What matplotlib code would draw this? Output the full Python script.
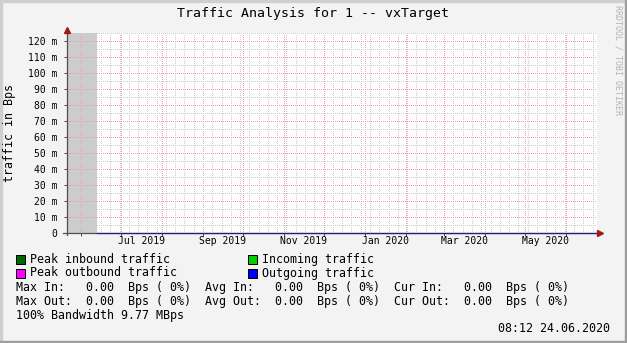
import datetime as dt

import matplotlib
matplotlib.use('Agg')
from matplotlib import pyplot as plt
import matplotlib.dates as mdates
import matplotlib.ticker as mticker
import matplotlib.transforms as mtrans
from matplotlib.patches import Rectangle

# figure size in pixels
W, H = 627, 343

# ---- data ----
title = 'Traffic Analysis for 1 -- vxTarget'
y_label = 'traffic in Bps'
watermark = 'RRDTOOL / TOBI OETIKER'
stamp = '08:12 24.06.2020'

t_start = dt.datetime(2019, 5, 21, 8, 12)
t_end = dt.datetime(2020, 6, 24, 8, 12)
t_unknown_end = dt.datetime(2019, 6, 12, 18, 0)  # no data before this

y_max = 125  # in milli Bps
y_ticks = list(range(0, 121, 10))
y_tick_labels = ['0'] + ['%d m' % v for v in y_ticks[1:]]
month_labels = [(2019, 7), (2019, 9), (2019, 11), (2020, 1), (2020, 3), (2020, 5)]

series_times = [t_unknown_end, t_end]
in_values = [0.0, 0.0]
out_values = [0.0, 0.0]

legend_names = ['Peak inbound traffic', 'Incoming traffic',
                'Peak outbound traffic', 'Outgoing traffic']
legend_colors = ['#006600', '#00cc00', '#ff00ff', '#0000ff']

stat_lines = [
    'Max In:   0.00  Bps ( 0%)  Avg In:   0.00  Bps ( 0%)  Cur In:   0.00  Bps ( 0%)',
    'Max Out:  0.00  Bps ( 0%)  Avg Out:  0.00  Bps ( 0%)  Cur Out:  0.00  Bps ( 0%)',
    '100% Bandwidth 9.77 MBps',
]

MONO = 'DejaVu Sans Mono'
BACK = '#f3f3f3'
AXIS = '#505050'
ARROW = '#a01818'


def fx(x):
    return x / W


def fy(y):
    return 1 - y / H


fig = plt.figure(figsize=(W / 100, H / 100), dpi=100, facecolor=BACK)

# plot area: x 67..597, y 33..233 (pixels)
ax = fig.add_axes([fx(67), fy(233), 530 / W, 200 / H])
ax.set_facecolor('white')
ax.set_xlim(t_start, t_end)
ax.set_ylim(0, y_max)

for s in ax.spines.values():
    s.set_visible(False)

# unknown data area
ax.axvspan(t_start, t_unknown_end, color='#cccccc', lw=0, zorder=0.2)

# grids: weekly / every 5 m (gray), monthly / every 10 m (pink)
ax.xaxis.set_major_locator(mdates.MonthLocator())
ax.xaxis.set_minor_locator(mdates.WeekdayLocator(byweekday=mdates.SU))
ax.xaxis.set_major_formatter(mticker.NullFormatter())
ax.set_yticks(y_ticks, y_tick_labels)
ax.yaxis.set_minor_locator(mticker.MultipleLocator(5))
ax.set_axisbelow(True)
ax.grid(which='minor', color='#cccccc', lw=0.72, linestyle=(0, (1, 2)),
        antialiased=False)
ax.grid(which='major', color='#eea0a0', lw=0.72, linestyle=(0, (1, 2)),
        antialiased=False)

ax.tick_params(which='major', length=2, width=0.72, color=AXIS, pad=5,
               labelsize=7, labelfontfamily=MONO)
ax.tick_params(which='minor', length=0)

# month labels sit in the middle of the month
trans = mtrans.blended_transform_factory(ax.transData, ax.transAxes)
for yr, mo in month_labels:
    a = dt.datetime(yr, mo, 1)
    b = dt.datetime(yr + (mo == 12), mo % 12 + 1, 1)
    mid = a + (b - a) / 2
    ax.text(mid, -0.04, a.strftime('%b %Y'), transform=trans, ha='center',
            va='center', fontsize=7, family=MONO)

# data lines (all zero)
ax.plot(series_times, in_values, color='#00cc00', lw=0.72, zorder=3, clip_on=False)
ax.plot(series_times, out_values, color='#202080', lw=0.9, zorder=4, clip_on=False)

# axes with arrows
ax.plot([0, 0], [-0.01, 1.02], color=AXIS, lw=0.9, transform=ax.transAxes,
        clip_on=False, zorder=2)
ax.plot([-0.008, 1.005], [0, 0], color=AXIS, lw=0.9, transform=ax.transAxes,
        clip_on=False, zorder=2)
ax.plot(0, 1.016, marker='^', color=ARROW, markersize=4.5, transform=ax.transAxes,
        clip_on=False, zorder=5)
ax.plot(1.0065, 0, marker='>', color=ARROW, markersize=4.5, transform=ax.transAxes,
        clip_on=False, zorder=5)

# texts
fig.text(fx(313), fy(14), title, ha='center', va='center', fontsize=9.5, family=MONO)
fig.text(fx(10), fy(133), y_label, ha='center', va='center', rotation=90,
         fontsize=8.4, family=MONO)
fig.text(fx(618), fy(60), watermark, ha='center', va='center', rotation=-90,
         fontsize=6, family=MONO, color='#b4b4b4')

leg_x = [16, 248, 16, 248]
leg_y = [259.5, 259.5, 273, 273]
for name, col, x, y in zip(legend_names, legend_colors, leg_x, leg_y):
    fig.patches.append(Rectangle((fx(x), fy(y + 4.5)), 9 / W, 9 / H, facecolor=col,
                                 edgecolor='black', lw=0.72,
                                 transform=fig.transFigure))
    fig.text(fx(x + 14.5), fy(y), name, ha='left', va='center', fontsize=8.4,
             family=MONO)

for line, y in zip(stat_lines, [287.5, 301, 315]):
    fig.text(fx(16), fy(y), line, ha='left', va='center', fontsize=8.4, family=MONO)

fig.text(fx(610), fy(328.5), stamp, ha='right', va='center', fontsize=8.4,
         family=MONO)

# 3d frame around the image
fig.patches.append(Rectangle((0, fy(2)), 1, 2 / H, color='#cfcfcf',
                             transform=fig.transFigure))
fig.patches.append(Rectangle((0, 0), 2 / W, 1, color='#cfcfcf',
                             transform=fig.transFigure))
fig.patches.append(Rectangle((0, 0), 1, 2 / H, color='#9e9e9e',
                             transform=fig.transFigure))
fig.patches.append(Rectangle((1 - 2 / W, 0), 2 / W, 1, color='#9e9e9e',
                             transform=fig.transFigure))

fig.savefig('out.png', dpi=100, facecolor=BACK)
